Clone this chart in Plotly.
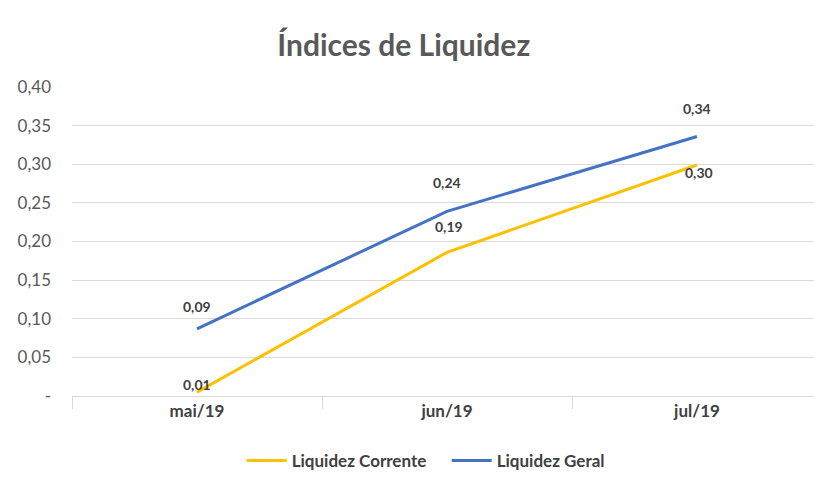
import plotly.graph_objects as go

# --- data ---------------------------------------------------------------------
meses = ["mai/19", "jun/19", "jul/19"]
liquidez_corrente = [0.005, 0.186, 0.299]
liquidez_geral = [0.087, 0.239, 0.336]

y_ticks = [0, 0.05, 0.10, 0.15, 0.20, 0.25, 0.30, 0.35, 0.40]
y_tick_labels = ["-", "0,05", "0,10", "0,15", "0,20", "0,25", "0,30", "0,35", "0,40"]

# label offsets (px) for the data labels, Excel-style placement
corrente_shift = [(0, 8), (2, 26), (2, -7)]
geral_shift = [(0, 22), (0, 29), (0, 28)]

AMARELO = "#FFC000"
AZUL = "#4472C4"
FONT = "Lato, 'Open Sans', sans-serif"


def fmt(v):
    return f"{v:.2f}".replace(".", ",")


fig = go.Figure()
fig.add_trace(go.Scatter(x=meses, y=liquidez_corrente, mode="lines",
                         name="<b>Liquidez Corrente</b>",
                         line=dict(color=AMARELO, width=3)))
fig.add_trace(go.Scatter(x=meses, y=liquidez_geral, mode="lines",
                         name="<b>Liquidez Geral</b>",
                         line=dict(color=AZUL, width=3)))

# data labels
for serie, shifts in ((liquidez_geral, geral_shift), (liquidez_corrente, corrente_shift)):
    for m, v, (dx, dy) in zip(meses, serie, shifts):
        fig.add_annotation(x=m, y=v, text=f"<b>{fmt(v)}</b>", showarrow=False,
                           xshift=dx, yshift=dy,
                           font=dict(family=FONT, size=14, color="#404040"))

fig.update_layout(
    width=814, height=479,
    margin=dict(l=72, r=0, t=87, b=80),
    paper_bgcolor="white", plot_bgcolor="white",
    title=dict(text="<b>Índices de Liquidez</b>", x=0.496, xanchor="center",
               y=0.906, yanchor="middle",
               font=dict(family=FONT, size=30, color="#595959")),
    legend=dict(orientation="h", x=0.505, xanchor="center", y=-0.212, yanchor="middle",
                font=dict(family=FONT, size=17, color="#404040"),
                itemwidth=40, entrywidth=150),
    showlegend=True,
)
fig.update_xaxes(range=[-0.5, 2.468], showgrid=False, showline=True,
                 linecolor="#d9d9d9", linewidth=1,
                 ticks="outside", tickson="boundaries", ticklen=12,
                 tickcolor="#d9d9d9",
                 tickfont=dict(family=FONT, size=17, color="#404040"))
fig.update_xaxes(ticktext=[f"<b>{m}</b>" for m in meses], tickvals=meses)
fig.update_yaxes(range=[0, 0.40], tickvals=y_ticks, ticktext=y_tick_labels,
                 showgrid=True, gridcolor="#d9d9d9", gridwidth=1,
                 zeroline=False, showline=False, ticklabelstandoff=20,
                 tickfont=dict(family=FONT, size=17, color="#595959"))

# drop the default 8px page margin so the figure fills the window exactly
fig.write_html("out.html", config={"displayModeBar": False},
               post_script="document.body.style.margin='0';")
